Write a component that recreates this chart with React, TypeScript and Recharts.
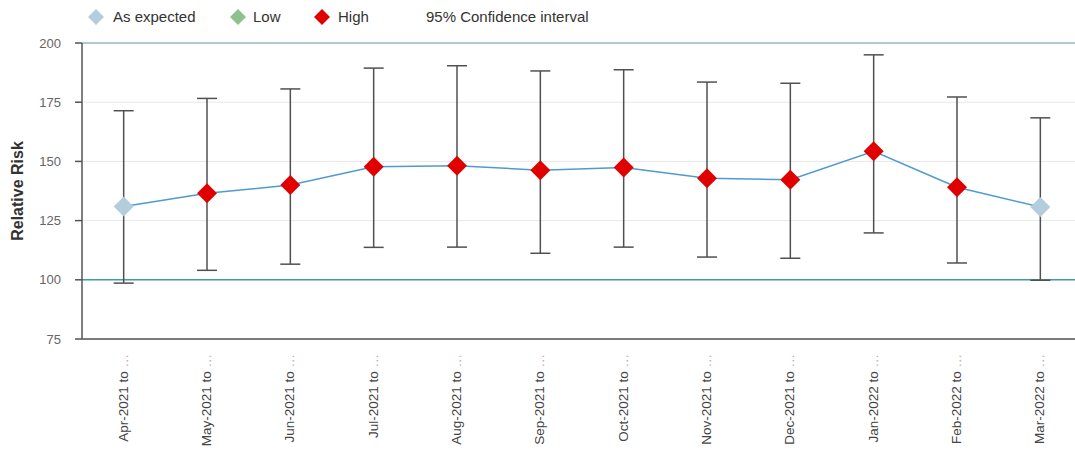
import React from 'react';
import {
  ComposedChart,
  Line,
  ErrorBar,
  XAxis,
  YAxis,
  CartesianGrid,
  ReferenceLine,
} from 'recharts';

const CATEGORIES = [
  'Apr-2021', 'May-2021', 'Jun-2021', 'Jul-2021', 'Aug-2021', 'Sep-2021',
  'Oct-2021', 'Nov-2021', 'Dec-2021', 'Jan-2022', 'Feb-2022', 'Mar-2022',
];
const RISK = [131, 136.5, 140, 147.7, 148.2, 146.3, 147.4, 142.9, 142.3, 154.3, 139.1, 130.7];
const LOWER = [98.6, 104, 106.6, 113.7, 113.8, 111.2, 113.8, 109.6, 109.1, 119.8, 107.1, 99.8];
const UPPER = [171.4, 176.6, 180.6, 189.4, 190.4, 188.2, 188.7, 183.5, 183.0, 195.0, 177.2, 168.4];
const STATUS = ['expected', 'high', 'high', 'high', 'high', 'high', 'high', 'high', 'high', 'high', 'high', 'expected'];
const Y_TICKS = [75, 100, 125, 150, 175, 200];

const STATUS_COLORS: Record<string, string> = {
  expected: '#b3cddd',
  low: '#8fc18f',
  high: '#e00000',
};

const FONT = "'Liberation Sans', Arial, sans-serif";

const data = CATEGORIES.map((c, i) => ({
  name: c,
  risk: RISK[i],
  ci: [RISK[i] - LOWER[i], UPPER[i] - RISK[i]],
  status: STATUS[i],
}));

function Diamond(props: any) {
  const { cx, cy, payload } = props;
  if (cx == null || cy == null) return null;
  const r = 10;
  return (
    <path
      d={`M${cx},${cy - r} L${cx + r},${cy} L${cx},${cy + r} L${cx - r},${cy} Z`}
      fill={STATUS_COLORS[payload.status]}
      stroke="none"
    />
  );
}

function XTick(props: any) {
  const { x, payload } = props;
  const tx = x + 4;
  const ty = 354;
  return (
    <text
      x={tx}
      y={ty}
      transform={`rotate(-90 ${tx} ${ty})`}
      textAnchor="end"
      fontSize={13.5}
      fontFamily={FONT}
      fill="#444"
    >
      {payload.value} to <tspan fill="#c9a9a9">…</tspan>
    </text>
  );
}

function LegendMark({ color }: { color: string }) {
  return (
    <svg width={16} height={16} style={{ display: 'block' }}>
      <path d="M8,0 L16,8 L8,16 L0,8 Z" fill={color} />
    </svg>
  );
}

export default function App() {
  const legendText: React.CSSProperties = {
    position: 'absolute',
    top: 8,
    fontSize: 15,
    fontFamily: FONT,
    color: '#333',
    lineHeight: '18px',
  };
  return (
    <div style={{ position: 'absolute', left: 0, top: 0, width: 1075, height: 450, overflow: 'hidden', background: '#fff' }}>
      <div style={{ position: 'absolute', left: 88, top: 9 }}><LegendMark color={STATUS_COLORS.expected} /></div>
      <div style={{ ...legendText, left: 113 }}>As expected</div>
      <div style={{ position: 'absolute', left: 230, top: 9 }}><LegendMark color={STATUS_COLORS.low} /></div>
      <div style={{ ...legendText, left: 253 }}>Low</div>
      <div style={{ position: 'absolute', left: 314, top: 9 }}><LegendMark color={STATUS_COLORS.high} /></div>
      <div style={{ ...legendText, left: 338 }}>High</div>
      <div style={{ ...legendText, left: 426 }}>95% Confidence interval</div>

      <ComposedChart
        width={1082}
        height={450}
        data={data}
        margin={{ top: 43, right: 0, bottom: 0, left: 0 }}
      >
        <CartesianGrid vertical={false} stroke="#e8e8e8" strokeWidth={1} />
        <XAxis
          dataKey="name"
          height={111}
          interval={0}
          padding={{ left: 41.67, right: 41.67 }}
          tickLine={false}
          axisLine={{ stroke: '#555', strokeWidth: 1.5 }}
          tick={<XTick />}
        />
        <YAxis
          width={82}
          domain={[75, 200]}
          ticks={Y_TICKS}
          tickSize={7}
          tickMargin={14}
          axisLine={{ stroke: '#555', strokeWidth: 1.5 }}
          tickLine={{ stroke: '#555', strokeWidth: 1.5 }}
          tick={{ fontSize: 13, fontFamily: FONT, fill: '#666' }}
          label={{
            content: ({ viewBox }: any) => {
              const cy = viewBox.y + viewBox.height / 2;
              return (
                <text
                  x={23}
                  y={cy}
                  transform={`rotate(-90 23 ${cy})`}
                  textAnchor="middle"
                  fontSize={16}
                  fontWeight="bold"
                  fontFamily={FONT}
                  fill="#333"
                >
                  Relative Risk
                </text>
              );
            },
          }}
        />
        <ReferenceLine y={200} stroke="#9bb9cc" strokeWidth={1.5} />
        <ReferenceLine y={100} stroke="#3d9f9f" strokeWidth={1.5} />
        <Line
          dataKey="risk"
          type="linear"
          stroke="#4f9bd0"
          strokeWidth={1.5}
          dot={<Diamond />}
          activeDot={false}
          isAnimationActive={false}
        >
          <ErrorBar dataKey="ci" direction="y" width={10} stroke="#505050" strokeWidth={1.5} />
        </Line>
      </ComposedChart>
    </div>
  );
}
